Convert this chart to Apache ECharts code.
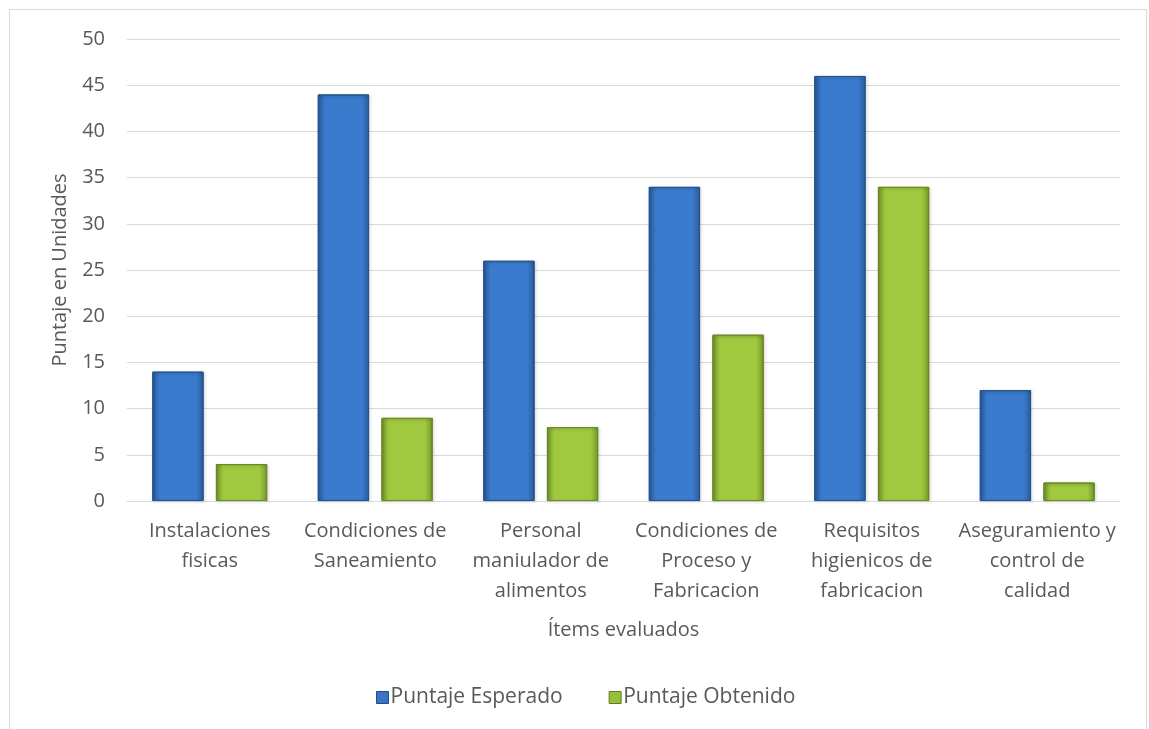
<!DOCTYPE html>
<html><head><meta charset="utf-8">
<script src="https://cdn.jsdelivr.net/npm/echarts@6/dist/echarts.min.js"></script>
<style>html,body{margin:0;padding:0;background:#fff}#c{width:1149px;height:729px}</style>
</head><body><div id="c"></div>
<script>
const categories = ['Instalaciones\nfisicas','Condiciones de\nSaneamiento','Personal\nmaniulador de\nalimentos','Condiciones de\nProceso y\nFabricacion','Requisitos\nhigienicos de\nfabricacion','Aseguramiento y\ncontrol de\ncalidad'];
const esperado = [14, 44, 26, 34, 46, 12];
const obtenido = [4, 9, 8, 18, 34, 2];
const seriesNames = ['Puntaje Esperado','Puntaje Obtenido'];

const font = '"Open Sans", sans-serif';
const fs = 20;
function grad(edge, mid){
  return new echarts.graphic.LinearGradient(0,0,1,0,[
    {offset:0,color:edge},{offset:0.15,color:mid},{offset:0.85,color:mid},{offset:1,color:edge}]);
}
const chart = echarts.init(document.getElementById('c'));
chart.setOption({
  backgroundColor:'#fff',
  graphic:[{type:'rect',shape:{x:9.5,y:9.5,width:1137,height:730},style:{fill:'none',stroke:'#d9d9d9',lineWidth:1},silent:true}],
  grid:{left:127,right:29,top:39,bottom:228},
  legend:{bottom:16,left:371,itemWidth:12,itemHeight:12,itemGap:46,icon:'rect',
    textStyle:{fontFamily:font,fontSize:21,color:'#595959',padding:[0,0,0,-3]},
    data:[{name:seriesNames[0],itemStyle:{color:'#3a75c4',borderColor:'#1f4e8c',borderWidth:1}},
          {name:seriesNames[1],itemStyle:{color:'#98bf3a',borderColor:'#5e7d1c',borderWidth:1}}]},
  xAxis:{type:'category',data:categories,
    name:'Ítems evaluados',nameLocation:'middle',nameGap:119,
    nameTextStyle:{fontFamily:font,fontSize:fs,color:'#595959'},
    axisLine:{lineStyle:{color:'#d9d9d9'}},axisTick:{show:false},
    axisLabel:{fontFamily:font,fontSize:fs,color:'#595959',lineHeight:30,margin:15,interval:0}},
  yAxis:{type:'value',min:0,max:50,interval:5,
    name:'Puntaje en Unidades',nameLocation:'middle',nameGap:57,nameRotate:90,
    nameTextStyle:{fontFamily:font,fontSize:fs,color:'#595959'},
    axisLine:{show:false},axisTick:{show:false},
    axisLabel:{fontFamily:font,fontSize:fs,color:'#595959',margin:22},
    splitLine:{lineStyle:{color:'#d9d9d9',width:1}}},
  series:[
    {name:seriesNames[0],type:'bar',data:esperado,barWidth:'31%',barGap:'24%',
     itemStyle:{color:grad('#2b5c9e','#3b7bcd'),borderColor:'#24528f',borderWidth:1,
       shadowColor:'rgba(0,0,0,0.25)',shadowBlur:3,shadowOffsetX:1,shadowOffsetY:1}},
    {name:seriesNames[1],type:'bar',data:obtenido,barWidth:'31%',
     itemStyle:{color:grad('#76982a','#a0c940'),borderColor:'#6a8a22',borderWidth:1,
       shadowColor:'rgba(0,0,0,0.25)',shadowBlur:3,shadowOffsetX:1,shadowOffsetY:1}}
  ]
});
</script></body></html>
